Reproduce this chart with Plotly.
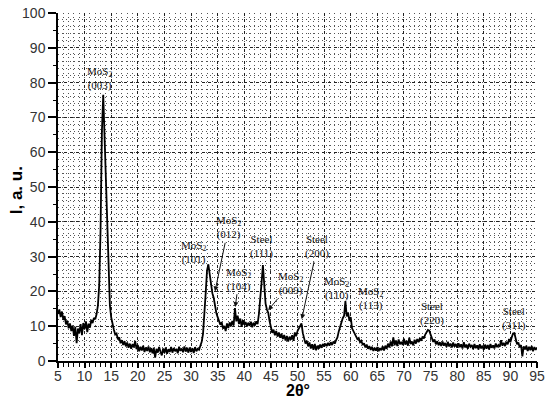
import numpy as np
import plotly.graph_objects as go

# 2-theta grid (degrees), step 0.25 from 5 to 95
two_theta = np.round(np.arange(5.0, 95.0001, 0.25), 2)

intensity = [
    13.5, 14.8, 12.6, 14.2, 11.8, 12.9, 10.5, 11.6, 9.4, 10.8, 8.6, 10.2, 7.2, 9.8, 5.1, 9.3, 8.1, 10.6, 7.4, 10.9,
    9.2, 11.4, 8.3, 10.7, 9.6, 11.8, 10.9, 12.4, 12.0, 13.5, 16.0, 22.0, 38.0, 66.0, 76.5, 64.0, 50.0, 34.0, 22.0, 16.0,
    12.5, 10.2, 9.0, 7.6, 7.9, 6.2, 6.8, 5.1, 6.0, 4.6, 5.7, 4.2, 5.3, 3.8, 5.0, 3.5, 4.9, 3.9, 5.8, 3.4,
    4.6, 2.8, 4.1, 3.0, 4.4, 2.6, 3.9, 2.9, 4.2, 2.5, 3.7, 2.2, 3.8, 1.0, 3.5, 2.4, 4.0, 2.7, 1.6, 3.6,
    2.3, 3.9, 2.1, 3.4, 2.6, 4.0, 2.4, 3.7, 2.8, 3.5, 2.2, 4.1, 2.9, 3.6, 2.5, 4.2, 2.7, 3.8, 2.4, 3.9,
    2.6, 3.7, 2.3, 4.0, 2.8, 3.5, 3.2, 4.4, 5.5, 7.8, 12.5, 19.5, 26.0, 27.8, 25.0, 21.5, 19.5, 18.2, 15.5, 13.8,
    12.6, 11.3, 10.4, 11.2, 9.3, 10.1, 8.6, 10.8, 9.5, 11.1, 10.0, 11.5, 10.2, 15.2, 11.4, 13.0, 10.6, 12.2, 9.8, 11.7,
    10.4, 11.2, 9.9, 11.0, 10.1, 11.3, 9.7, 11.0, 10.2, 11.4, 10.6, 13.5, 17.0, 22.5, 27.6, 21.0, 16.5, 14.8, 13.9, 11.5,
    9.3, 8.1, 9.0, 7.4, 8.6, 7.0, 8.2, 6.7, 7.8, 6.3, 7.5, 5.9, 7.2, 5.6, 7.0, 6.1, 7.4, 5.8, 8.2, 7.1,
    8.6, 9.5, 10.3, 10.8, 8.0, 6.2, 5.0, 5.8, 4.2, 5.3, 3.6, 4.8, 3.2, 4.9, 3.1, 4.4, 3.5, 4.7, 3.8, 4.9,
    4.1, 5.0, 4.3, 5.2, 4.4, 5.4, 4.6, 5.6, 5.0, 6.0, 6.8, 8.5, 9.8, 11.5, 12.3, 13.0, 17.2, 12.8, 14.0, 11.5,
    12.6, 9.4, 8.5, 7.6, 7.2, 6.3, 6.6, 5.4, 5.8, 4.6, 5.1, 3.9, 4.7, 3.5, 4.3, 3.2, 4.1, 2.9, 3.8, 3.0,
    4.0, 2.8, 3.7, 3.1, 4.2, 3.0, 4.4, 3.5, 5.0, 3.9, 5.6, 4.2, 6.8, 4.5, 5.9, 4.3, 6.2, 4.8, 5.5, 4.6,
    6.4, 4.7, 5.8, 4.4, 6.7, 4.9, 5.6, 4.5, 6.1, 5.0, 6.3, 5.4, 6.6, 5.8, 7.0, 6.5, 7.6, 8.3, 8.9, 8.7,
    7.8, 6.6, 5.5, 6.2, 4.8, 5.7, 4.5, 5.4, 4.3, 5.6, 4.4, 5.2, 4.0, 5.5, 4.2, 5.0, 3.9, 5.3, 4.1, 4.9,
    3.8, 5.1, 4.0, 4.8, 3.6, 5.4, 3.9, 4.7, 3.5, 5.0, 4.1, 4.6, 3.4, 4.9, 3.7, 4.5, 3.3, 4.8, 3.6, 4.4,
    3.2, 4.7, 3.5, 4.6, 3.3, 4.9, 3.8, 4.5, 3.6, 5.0, 4.0, 4.6, 4.1, 6.0, 4.4, 5.2, 4.3, 5.5, 4.8, 6.3,
    5.4, 6.8, 7.9, 8.0, 6.2, 4.8, 5.3, 3.9, 4.6, 1.3, 4.2, 3.3, 4.4, 2.9, 4.1, 3.1, 4.3, 2.8, 4.0, 3.2,
    3.9,
]

# Peak labels
label_names = ["MoS<sub>2</sub>", "MoS<sub>2</sub>", "MoS<sub>2</sub>", "MoS<sub>2</sub>", "Steel",
               "MoS<sub>2</sub>", "Steel", "MoS<sub>2</sub>", "MoS<sub>2</sub>", "Steel", "Steel"]
label_hkl = ["(003)", "(101)", "(012)", "(104)", "(111)", "(009)", "(200)", "(110)", "(113)", "(220)", "(311)"]
label_x = [12.8, 30.4, 37.0, 39.0, 43.3, 48.6, 53.7, 57.4, 63.8, 75.3, 90.7]
label_y = [81.3, 31.2, 38.3, 23.5, 33.0, 22.2, 32.8, 20.7, 18.1, 13.6, 12.3]
arrow_x = [None, None, 34.5, 38.3, None, 44.5, 50.8, None, None, None, None]
arrow_y = [None, None, 20.0, 15.5, None, 14.6, 12.0, None, None, None, None]

x_ticks = list(range(5, 96, 5))
y_ticks = list(range(0, 101, 10))

fig = go.Figure()
fig.add_trace(go.Scatter(
    x=two_theta, y=intensity, mode="lines",
    line=dict(color="black", width=1.8),
    showlegend=False, hoverinfo="skip",
))
# invisible helper traces: second y axis (minor y ticks) and second x axis (long major x ticks)
fig.add_trace(go.Scatter(x=[5], y=[0], yaxis="y2", mode="markers",
                         marker=dict(opacity=0), showlegend=False, hoverinfo="skip"))
fig.add_trace(go.Scatter(x=[5], y=[0], xaxis="x2", mode="markers",
                         marker=dict(opacity=0), showlegend=False, hoverinfo="skip"))

label_font = dict(family="Liberation Serif, Times New Roman, serif", size=11, color="#111")
annotations = []
for name, hkl, lx, ly, ax_, ay_ in zip(label_names, label_hkl, label_x, label_y, arrow_x, arrow_y):
    text = f"{name}<br>{hkl}"
    if ax_ is None:
        annotations.append(dict(x=lx, y=ly, xref="x", yref="y", text=text, showarrow=False,
                                font=label_font, align="center"))
    else:
        annotations.append(dict(x=ax_, y=ay_, ax=lx, ay=ly, xref="x", yref="y", axref="x", ayref="y",
                                text=text, showarrow=True, arrowhead=2, arrowsize=1, arrowwidth=1,
                                arrowcolor="#111", font=label_font, align="center", standoff=0,
                                startstandoff=0))

annotations.append(dict(x=0.5, y=-0.086, xref="paper", yref="paper", text="<b>2θ°</b>",
                        showarrow=False, font=dict(family="Liberation Sans, Arial", size=16, color="black"),
                        yanchor="middle"))
annotations.append(dict(x=-0.086, y=0.49, xref="paper", yref="paper", text="<b>I, a. u.</b>",
                        showarrow=False, textangle=-90,
                        font=dict(family="Liberation Sans, Arial", size=17, color="black"),
                        xanchor="center", yanchor="middle"))

tick_font = dict(family="Liberation Sans, Arial", size=14, color="#333")

fig.update_layout(
    width=550, height=409,
    margin=dict(l=58, r=13, t=13, b=48, autoexpand=False),
    paper_bgcolor="white", plot_bgcolor="white",
    annotations=annotations,
    xaxis=dict(
        range=[5, 95], tickmode="array", tickvals=x_ticks, ticktext=[str(v) for v in x_ticks],
        ticks="outside", ticklen=1, tickwidth=1.5, tickcolor="black",
        showline=True, linecolor="black", linewidth=1.5,
        showgrid=True, gridcolor="#222", gridwidth=1, griddash="3px,3px",
        zeroline=False, tickfont=tick_font, automargin=False,
        minor=dict(dtick=1, tick0=5, ticks="outside", ticklen=4, tickwidth=1.2, tickcolor="black",
                   showgrid=True, gridcolor="#555", gridwidth=1, griddash="1px,3px"),
    ),
    xaxis2=dict(
        range=[5, 95], overlaying="x", side="bottom", anchor="y", dtick=5, tick0=5,
        ticks="outside", ticklen=6, tickwidth=1.5, tickcolor="black",
        showticklabels=False, showgrid=False, zeroline=False, showline=False, automargin=False,
    ),
    yaxis=dict(
        range=[0, 100], tickmode="array", tickvals=y_ticks, ticktext=[str(v) for v in y_ticks],
        ticks="outside", ticklen=8, tickwidth=1.5, tickcolor="black",
        showline=True, linecolor="black", linewidth=1.5,
        showgrid=True, gridcolor="#222", gridwidth=1, griddash="3px,3px",
        zeroline=False, tickfont=tick_font, automargin=False,
        minor=dict(dtick=2, tick0=0, ticks="", showgrid=True, gridcolor="#555", gridwidth=1,
                   griddash="1px,3px"),
    ),
    yaxis2=dict(
        range=[0, 100], overlaying="y", side="left", dtick=5, tick0=0,
        ticks="outside", ticklen=4, tickwidth=1.2, tickcolor="black",
        showticklabels=False, showgrid=False, zeroline=False, showline=False, automargin=False,
    ),
)

# remove the default 8px page margin so the figure starts at the window corner
fig.write_html("out.html", config={"displayModeBar": False},
               post_script="document.body.style.margin='0';")
